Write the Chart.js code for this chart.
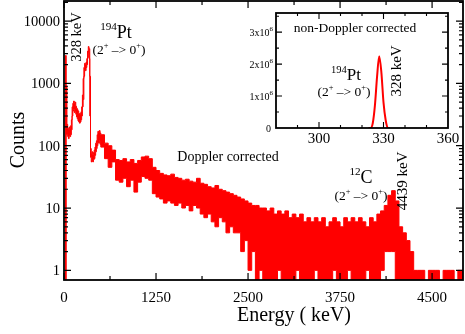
<!DOCTYPE html>
<html lang="en">
<head>
<meta charset="UTF-8">
<title>194Pt gamma spectrum</title>
<style>
  body { margin: 0; background: #fff; }
  .wrap { position: relative; width: 465px; height: 334px; }
  #mainChart { position: absolute; left: 0; top: 0; }
  #insetChart { position: absolute; left: 230px; top: 0; }
</style>
<script src="https://cdn.jsdelivr.net/npm/chart.js"></script>
</head>
<body>
<div class="wrap">
  <canvas id="mainChart" width="465" height="334"></canvas>
  <canvas id="insetChart" width="235" height="150"></canvas>
</div>
<script>
// ---- Doppler corrected spectrum (upper / lower edge of the noise band) ----
// low energy part: 10 keV bins from 0 keV
const lowStart = 0, lowStep = 10;
const lowUpper = [0, 0, 2800, 900, 220, 190, 180, 200, 190, 210,
  260, 420, 480, 520, 470, 500, 430, 400, 380, 360,
  330, 310, 330, 350, 420, 650, 1200, 1800, 2100, 2000,
  2200, 2500, 3300, 3900, 3600, 1300, 90, 75, 80, 72,
  78, 85, 95, 110, 120, 150, 170, 165, 175, 160];
const lowLower = [0, 0, 0, 150, 150, 140, 130, 145, 140, 150,
  180, 300, 360, 380, 340, 360, 320, 290, 270, 250,
  240, 230, 240, 260, 300, 420, 550, 1300, 1700, 1600,
  1800, 2000, 2600, 3200, 2500, 300, 65, 55, 58, 55,
  60, 62, 70, 80, 90, 100, 115, 110, 120, 105];
// rest of the spectrum: 50 keV bins from 500 keV
const highStart = 500, highStep = 50;
const highUpper = [150, 110, 100, 85, 60, 58, 62, 55, 60, 52,
  58, 66, 68, 62, 45, 40, 36, 34, 33, 35,
  31, 30, 28, 29, 27, 26, 30, 25, 24, 22,
  21, 23, 20, 19, 18, 17, 16, 15, 14, 13,
  12, 11, 11, 10, 10, 9, 10, 8, 9, 8,
  9, 7, 8, 7, 8, 6, 7, 6, 7, 6,
  7, 5, 6, 7, 6, 5, 7, 6, 7, 6,
  7, 6, 5, 7, 6, 8, 9, 11, 16, 19,
  13, 5, 4, 3, 2, 1, 1, 1, 0, 1,
  1, 1, 0, 1, 1, 1, 0, 1, 1];
const highLower = [95, 62, 45, 55, 28, 26, 30, 22, 28, 18,
  26, 32, 30, 28, 17, 15, 14, 12, 13, 12,
  11, 12, 10, 11, 9, 11, 10, 8, 7, 8,
  6, 5, 7, 6, 4, 5, 4, 4, 2, 3,
  1, 2, 0, 1, 0, 0, 0, 0, 1, 0,
  0, 0, 0, 1, 0, 0, 0, 0, 1, 0,
  0, 0, 0, 1, 0, 0, 0, 1, 0, 0,
  0, 0, 1, 0, 0, 0, 1, 2, 2, 2,
  0, 0, 0, 0, 0, 0, 0, 0, 0, 0,
  0, 0, 0, 0, 0, 0, 0, 0, 0];

const xTickValues = [0, 1250, 2500, 3750, 5000];
const xTickLabels = ['0', '1250', '2500', '3750', '4500'];   // as printed on the original
const yTickValues = [1, 10, 100, 1000, 10000];
const yTickLabels = ['1', '10', '100', '1000', '10000'];

// ---- inset: non-Doppler corrected 328 keV line ----
const insetEnergy = [323, 324, 325, 326, 327, 328, 329, 330, 331, 332, 333];
const insetCounts = [0, 0, 150000, 700000, 1600000, 2250000, 1750000, 800000, 250000, 0, 0];
const insetXTicks = [300, 330, 360];
const insetYTicks = [0, 1000000, 2000000, 3000000];
const insetYLabels = ['0', '1x10^6', '2x10^6', '3x10^6'];

const RED = '#ff0000';
const SERIF = '"Liberation Serif", "Times New Roman", serif';
const X_MAX = 5420;
const Y_MIN = 0.72;
// empty bins cannot sit on a log axis, park them just under its bottom edge
const ZERO_FLOOR = 0.5;

function toPoints(start, step, arr) {
  return arr.map((v, i) => ({ x: start + i * step, y: v > 0 ? v : ZERO_FLOOR }));
}
const upperPts = toPoints(lowStart, lowStep, lowUpper).concat(toPoints(highStart, highStep, highUpper));
const lowerPts = toPoints(lowStart, lowStep, lowLower).concat(toPoints(highStart, highStep, highLower));
// hold the last bin up to the right edge
upperPts.push({ x: X_MAX, y: upperPts[upperPts.length - 1].y });
lowerPts.push({ x: X_MAX, y: lowerPts[lowerPts.length - 1].y });

// text with superscript runs: parts = [[text, isSup], ...]
function richText(ctx, parts, cx, baseline, size) {
  const fonts = parts.map(p => (p[1] ? size * 0.62 : size) + 'px ' + SERIF);
  let w = 0;
  parts.forEach((p, i) => { ctx.font = fonts[i]; w += ctx.measureText(p[0]).width; });
  let x = cx - w / 2;
  ctx.textAlign = 'left';
  ctx.textBaseline = 'alphabetic';
  parts.forEach((p, i) => {
    ctx.font = fonts[i];
    ctx.fillText(p[0], x, p[1] ? baseline - size * 0.42 : baseline);
    x += ctx.measureText(p[0]).width;
  });
}
function rotText(ctx, text, bx, cy, size) {
  ctx.save();
  ctx.translate(bx, cy);
  ctx.rotate(-Math.PI / 2);
  ctx.font = size + 'px ' + SERIF;
  ctx.textAlign = 'center';
  ctx.textBaseline = 'alphabetic';
  ctx.fillText(text, 0, 0);
  ctx.restore();
}
function line(ctx, x1, y1, x2, y2) { ctx.moveTo(x1, y1); ctx.lineTo(x2, y2); }
const transition = [['(2', false], ['+', true], [' \u2013> 0', false], ['+', true], [')', false]];

const mainFrame = {
  id: 'mainFrame',
  afterDraw(chart) {
    const { ctx, chartArea: a, scales: { x, y } } = chart;
    ctx.save();
    ctx.strokeStyle = '#000';
    ctx.fillStyle = '#000';
    ctx.lineWidth = 1.2;
    ctx.beginPath();
    // x ticks, bottom and top, pointing inward
    xTickValues.forEach((v, i) => {
      const px = x.getPixelForValue(v);
      line(ctx, px, a.bottom, px, a.bottom - 7);
      line(ctx, px, a.top, px, a.top + 7);
      if (i > 0) {
        const pm = x.getPixelForValue((v + xTickValues[i - 1]) / 2);
        line(ctx, pm, a.bottom, pm, a.bottom - 4);
        line(ctx, pm, a.top, pm, a.top + 4);
      }
    });
    // log y ticks, left and right
    for (let k = 0; k <= 4; k++) {
      for (let d = 1; d <= 9; d++) {
        const v = d * Math.pow(10, k);
        if (v > y.max) break;
        const py = y.getPixelForValue(v);
        const len = d === 1 ? 7 : 4;
        line(ctx, a.left, py, a.left + len, py);
        line(ctx, a.right, py, a.right - len, py);
      }
    }
    ctx.stroke();
    ctx.lineWidth = 1.8;
    ctx.strokeRect(a.left, a.top, a.right - a.left, a.bottom - a.top);

    // tick labels
    ctx.font = '15px ' + SERIF;
    ctx.textAlign = 'center';
    ctx.textBaseline = 'alphabetic';
    xTickValues.forEach((v, i) => ctx.fillText(xTickLabels[i], x.getPixelForValue(v), 302));
    ctx.font = '14.5px ' + SERIF;
    ctx.textAlign = 'right';
    yTickValues.forEach((v, i) => ctx.fillText(yTickLabels[i], 60, y.getPixelForValue(v) + 5));

    // axis titles
    ctx.font = '20px ' + SERIF;
    ctx.textAlign = 'center';
    ctx.fillText('Energy ( keV)', 294, 321);
    rotText(ctx, 'Counts', 24, 140, 20);

    // annotations
    rotText(ctx, '328 keV', 81, 37, 14.5);
    richText(ctx, [['194', true], ['Pt', false]], 116, 38, 18);
    richText(ctx, transition, 119, 54, 13.5);
    ctx.font = '14px ' + SERIF;
    ctx.textAlign = 'center';
    ctx.fillText('Doppler corrected', 228, 161);
    richText(ctx, [['12', true], ['C', false]], 361, 183, 18);
    richText(ctx, transition, 361, 200, 13.5);
    rotText(ctx, '4439 keV', 407, 181, 15);
    ctx.restore();
  }
};

new Chart(document.getElementById('mainChart'), {
  type: 'line',
  data: {
    datasets: [
      { label: 'upper', data: upperPts, stepped: true, borderColor: RED, backgroundColor: RED,
        borderWidth: 1, pointRadius: 0, fill: '+1' },
      { label: 'lower', data: lowerPts, stepped: true, borderColor: RED, backgroundColor: RED,
        borderWidth: 1, pointRadius: 0, fill: false }
    ]
  },
  options: {
    responsive: false,
    animation: false,
    layout: { padding: { left: 64, right: 2, top: 1, bottom: 54 } },
    plugins: { legend: { display: false }, tooltip: { enabled: false } },
    scales: {
      x: { type: 'linear', min: 0, max: X_MAX, display: false },
      y: { type: 'logarithmic', min: Y_MIN, max: 21000, display: false }
    }
  },
  plugins: [mainFrame]
});

// ---- inset chart ----
const insetFrame = {
  id: 'insetFrame',
  beforeDraw(chart) {
    const { ctx, chartArea: a } = chart;
    ctx.save();
    ctx.fillStyle = '#fff';
    ctx.fillRect(a.left, a.top, a.right - a.left, a.bottom - a.top);
    ctx.restore();
  },
  afterDraw(chart) {
    const { ctx, chartArea: a, scales: { x, y } } = chart;
    ctx.save();
    ctx.strokeStyle = '#000';
    ctx.fillStyle = '#000';
    ctx.lineWidth = 1.1;
    ctx.beginPath();
    for (let v = 290; v < 360; v += 10) {
      const px = x.getPixelForValue(v);
      const len = insetXTicks.includes(v) ? 6 : 3;
      line(ctx, px, a.bottom, px, a.bottom - len);
      line(ctx, px, a.top, px, a.top + len);
    }
    for (let v = 500000; v < y.max; v += 500000) {
      const py = y.getPixelForValue(v);
      const len = insetYTicks.includes(v) ? 6 : 3;
      line(ctx, a.left, py, a.left + len, py);
      line(ctx, a.right, py, a.right - len, py);
    }
    ctx.stroke();
    ctx.lineWidth = 1.8;
    ctx.strokeRect(a.left, a.top, a.right - a.left, a.bottom - a.top);

    ctx.font = '15px ' + SERIF;
    ctx.textAlign = 'center';
    ctx.textBaseline = 'alphabetic';
    insetXTicks.forEach(v => ctx.fillText(String(v), x.getPixelForValue(v), 143));

    // y labels like 3x10^6, right aligned at x = 43
    insetYTicks.forEach((v, i) => {
      const [base, exp] = insetYLabels[i].split('^');
      const py = y.getPixelForValue(v) + 4;
      ctx.textAlign = 'right';
      if (exp) {
        ctx.font = '7px ' + SERIF;
        ctx.fillText(exp, 43, py - 5);
        const ew = ctx.measureText(exp).width;
        ctx.font = '10px ' + SERIF;
        ctx.fillText(base, 43 - ew, py);
      } else {
        ctx.font = '10px ' + SERIF;
        ctx.fillText(base, 41, py);
      }
    });

    ctx.font = '13.5px ' + SERIF;
    ctx.textAlign = 'center';
    ctx.fillText('non-Doppler corrected', 125, 32);
    richText(ctx, [['194', true], ['Pt', false]], 116, 80, 17);
    richText(ctx, transition, 114, 96, 13.5);
    rotText(ctx, '328 keV', 171, 71, 15);
    ctx.restore();
  }
};

new Chart(document.getElementById('insetChart'), {
  type: 'line',
  data: {
    datasets: [{
      data: insetEnergy.map((e, i) => ({ x: e, y: insetCounts[i] })),
      borderColor: RED, borderWidth: 2, pointRadius: 0, fill: false,
      cubicInterpolationMode: 'monotone'
    }]
  },
  options: {
    responsive: false,
    animation: false,
    layout: { padding: { left: 46, right: 17, top: 13, bottom: 22 } },
    plugins: { legend: { display: false }, tooltip: { enabled: false } },
    scales: {
      x: { type: 'linear', min: 280, max: 360, display: false },
      y: { type: 'linear', min: 0, max: 3600000, display: false }
    }
  },
  plugins: [insetFrame]
});
</script>
</body>
</html>
